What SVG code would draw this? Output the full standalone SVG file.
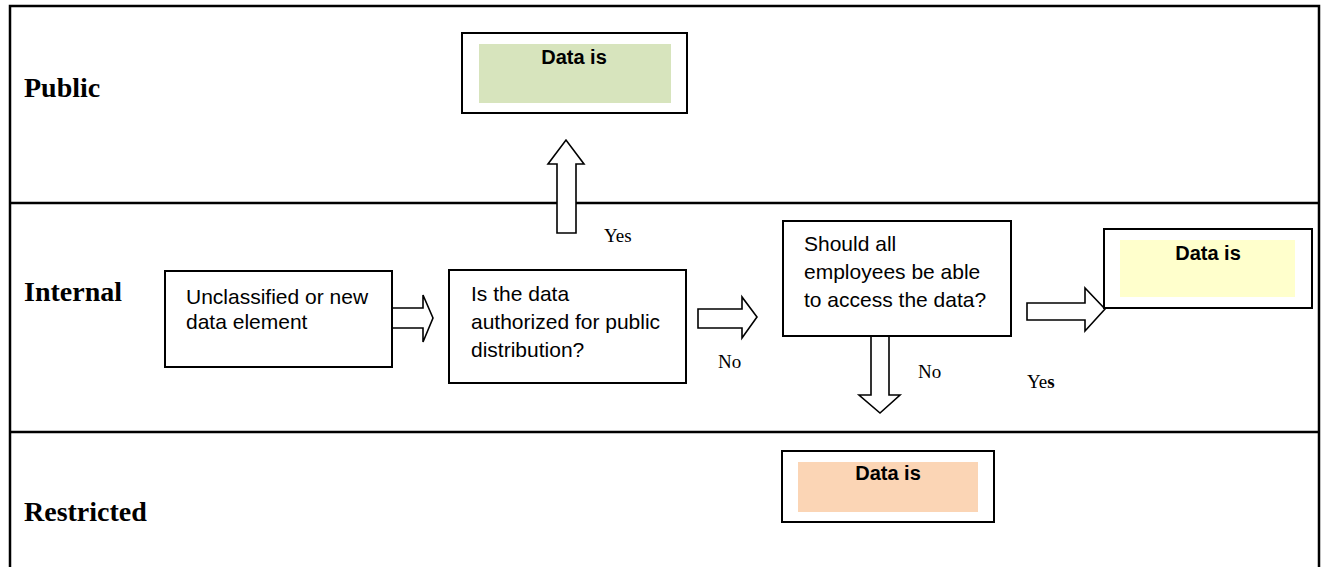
<svg xmlns="http://www.w3.org/2000/svg" width="1321" height="567" viewBox="0 0 1321 567">
<style>
.frame{fill:none;stroke:#000;stroke-width:2.5}
.box{fill:#fff;stroke:#000;stroke-width:2}
.arrow{fill:#fff;stroke:#000;stroke-width:1.6;stroke-linejoin:miter}
.lane{font-family:"Liberation Serif","Times New Roman",serif;font-weight:bold;font-size:28px;fill:#000}
.txt{font-family:"Liberation Sans",Arial,sans-serif;font-size:21px;fill:#000}
.res{font-family:"Liberation Sans",Arial,sans-serif;font-size:20px;font-weight:bold;fill:#000;text-anchor:middle}
.lbl{font-family:"Liberation Serif","Times New Roman",serif;font-size:19px;fill:#000}
</style>
<rect width="1321" height="567" fill="#fff"/>
<g id="lanes">
<path class="frame" d="M10,567 V6 H1319 V567"/>
<line class="frame" x1="10" y1="203" x2="1319" y2="203"/>
<line class="frame" x1="10" y1="432" x2="1319" y2="432"/>
<text class="lane" x="24" y="97">Public</text>
<text class="lane" x="24" y="301">Internal</text>
<text class="lane" x="24" y="521">Restricted</text>
</g>
<g id="connectors">
<polygon class="arrow" points="557,233 557,164 548,164 566,140 584,164 576,164 576,233"/>
<polygon class="arrow" points="392,308 423,308 423,295 433,318 423,342 423,328 392,328"/>
<polygon class="arrow" points="698,309 742,309 742,297 757,317 742,338 742,328 698,328"/>
<polygon class="arrow" points="871,336 889,336 889,395 900,395 880,413 859,395 871,395"/>
<polygon class="arrow" points="1027,303 1085,303 1085,288 1105,309 1085,331 1085,320 1027,320"/>
<text class="lbl" x="604" y="242">Yes</text>
<text class="lbl" x="718" y="368">No</text>
<text class="lbl" x="918" y="378">No</text>
<text class="lbl" x="1027" y="388">Ye<tspan font-weight="bold">s</tspan></text>
</g>
<g id="public-result">
<rect class="box" x="462" y="33" width="225" height="80"/>
<rect x="479" y="44" width="192" height="59" fill="#d7e4bd"/>
<text class="res" x="574" y="64">Data is</text>
</g>
<g id="unclassified">
<rect class="box" x="165" y="271" width="227" height="96"/>
<text class="txt" x="186" y="304">Unclassified or new</text>
<text class="txt" x="186" y="329">data element</text>
</g>
<g id="public-question">
<rect class="box" x="449" y="270" width="237" height="113"/>
<text class="txt" x="471" y="301">Is the data</text>
<text class="txt" x="471" y="329">authorized for public</text>
<text class="txt" x="471" y="357">distribution?</text>
</g>
<g id="employees-question">
<rect class="box" x="783" y="221" width="228" height="115"/>
<text class="txt" x="804" y="251">Should all</text>
<text class="txt" x="804" y="279">employees be able</text>
<text class="txt" x="804" y="307">to access the data?</text>
</g>
<g id="internal-result">
<rect class="box" x="1104" y="229" width="208" height="79"/>
<rect x="1120" y="240" width="175" height="57" fill="#ffffcc"/>
<text class="res" x="1208" y="260">Data is</text>
</g>
<g id="restricted-result">
<rect class="box" x="782" y="451" width="212" height="71"/>
<rect x="798" y="462" width="180" height="50" fill="#fbd5b5"/>
<text class="res" x="888" y="480">Data is</text>
</g>
</svg>
